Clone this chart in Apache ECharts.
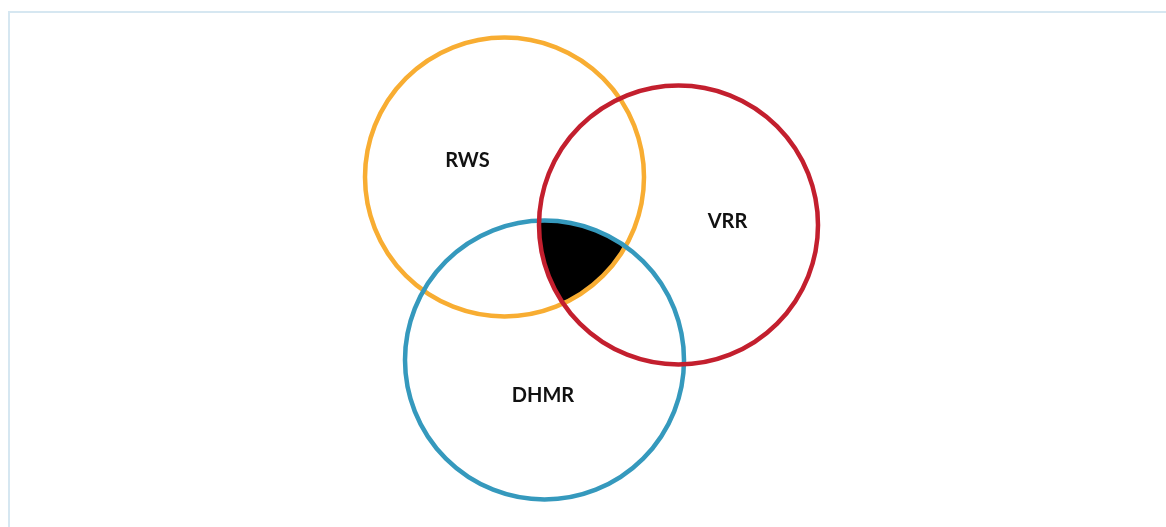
<!DOCTYPE html>
<html>
<head>
<meta charset="utf-8">
<script src="https://cdn.jsdelivr.net/npm/echarts@6/dist/echarts.min.js"></script>
<style>
  html, body { margin: 0; padding: 0; background: #fff; overflow: hidden; }
  #frame { position: absolute; left: 8px; top: 11px; width: 1300px; height: 700px;
           border-left: 2px solid #d6e7f1; border-top: 2px solid #d6e7f1; }
  #chart { position: absolute; left: 0; top: 0; width: 1166px; height: 527px; }
</style>
</head>
<body>
<div id="frame"></div>
<div id="chart"></div>
<script>
// sets, drawn in this order (later ones on top)
var setNames = ['RWS', 'DHMR', 'VRR'];
var setColors = ['#f8ad32', '#3599bd', '#c31f2e'];
var centerX = [504.5, 544.5, 678.5];
var centerY = [177, 360, 225];
var radius = [139.5, 139.5, 139.5];
var labelX = [467.5, 543, 727.5];
var labelY = [161, 396, 222];

var chart = echarts.init(document.getElementById('chart'));

function inside(p, i) {
    var dx = p[0] - centerX[i], dy = p[1] - centerY[i];
    return Math.sqrt(dx * dx + dy * dy) <= radius[i] + 1e-6;
}

// outline of the area shared by all three sets
function tripleArea() {
    var pts = [];
    for (var i = 0; i < setNames.length; i++) {
        for (var a = 0; a < 720; a++) {
            var t = a / 720 * Math.PI * 2;
            var p = [centerX[i] + radius[i] * Math.cos(t), centerY[i] + radius[i] * Math.sin(t)];
            var ok = true;
            for (var j = 0; j < setNames.length; j++) {
                if (j != i && !inside(p, j)) ok = false;
            }
            if (ok) pts.push(p);
        }
    }
    var mx = 0, my = 0;
    pts.forEach(function (p) { mx += p[0]; my += p[1]; });
    mx /= pts.length; my /= pts.length;
    pts.sort(function (a, b) {
        return Math.atan2(a[1] - my, a[0] - mx) - Math.atan2(b[1] - my, b[0] - mx);
    });
    return pts;
}

var area = tripleArea();

var option = {
    animation: false,
    grid: { left: 0, top: 0, right: 0, bottom: 0 },
    xAxis: { type: 'value', min: 0, max: 1166, show: false },
    yAxis: { type: 'value', min: 0, max: 527, inverse: true, show: false },
    series: [
        {
            type: 'custom',
            coordinateSystem: 'cartesian2d',
            data: [[0, 0]],
            z: 1,
            renderItem: function (params, api) {
                return {
                    type: 'polygon',
                    shape: { points: area.map(function (p) { return api.coord(p); }) },
                    style: { fill: '#000' }
                };
            }
        },
        {
            type: 'custom',
            coordinateSystem: 'cartesian2d',
            data: setNames.map(function (n, i) { return [centerX[i], centerY[i], radius[i], i]; }),
            z: 2,
            renderItem: function (params, api) {
                var i = api.value(3);
                var c = api.coord([api.value(0), api.value(1)]);
                var r = api.size([api.value(2), 0])[0];
                return {
                    type: 'circle',
                    z2: i,
                    shape: { cx: c[0], cy: c[1], r: r },
                    style: { fill: 'none', stroke: setColors[i], lineWidth: 4.5 }
                };
            }
        },
        {
            type: 'custom',
            coordinateSystem: 'cartesian2d',
            data: setNames.map(function (n, i) { return [labelX[i], labelY[i], i]; }),
            z: 3,
            renderItem: function (params, api) {
                var i = api.value(2);
                var c = api.coord([api.value(0), api.value(1)]);
                return {
                    type: 'text',
                    x: c[0], y: c[1],
                    style: {
                        text: setNames[i],
                        fill: '#111',
                        font: 'bold 20px Lato',
                        align: 'center',
                        verticalAlign: 'middle'
                    }
                };
            }
        }
    ]
};
chart.setOption(option);
</script>
</body>
</html>
